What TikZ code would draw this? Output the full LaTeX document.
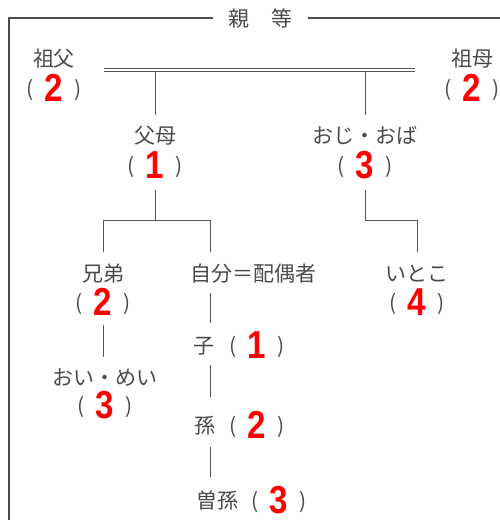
\documentclass[tikz,border=0pt]{standalone}
\usepackage{fontspec}
\newfontfamily\jp{Noto Sans CJK JP}
\newfontfamily\numf{Liberation Sans}
\definecolor{txt}{HTML}{4A4A4A}
\definecolor{lnc}{HTML}{555555}
\definecolor{rd}{HTML}{FF0000}
\newcommand\grp[4]{%
  \node[pr] (#1l) at (#2-24,#3) {(};
  \node[nm] (#1n) at (#2,#3) {#4};
  \node[pr] (#1r) at (#2+24,#3) {)};}
\begin{document}
\begin{tikzpicture}[x=1pt,y=-1pt,
  jt/.style={font=\jp\fontsize{21}{21}\selectfont, text=txt, inner sep=0pt, text height=18.5pt, text depth=2.5pt},
  pr/.style={jt},
  nm/.style={font=\numf\bfseries\fontsize{39}{39}\selectfont, text=rd, inner sep=0pt, xscale=0.85},
  ln/.style={draw=lnc, line width=1pt},
  frm/.style={draw=black!70, line width=1.5pt}]
\useasboundingbox (0,0) rectangle (500,520);
% frame
\coordinate (f0) at (9,525);
\coordinate (f1) at (9,18);
\coordinate (f2) at (213,18);
\coordinate (f3) at (308,18);
\coordinate (f4) at (505,18);
\draw[frm] (f0) -- (f1) -- (f2);
\draw[frm] (f3) -- (f4);
\node[jt] (t1) at (239,18) {親};
\node[jt] (t2) at (282,18) {等};
% grandparents
\node[jt] (sofu) at (54,58) {祖父};
\grp{sofun}{54}{88}{2}
\node[jt] (sobo) at (472,58) {祖母};
\grp{sobon}{472}{88}{2}
% double line
\coordinate (d1) at (104,69.5);
\coordinate (d2) at (415,69.5);
\draw[ln, double=white, double distance=2pt] (d1) -- (d2);
\coordinate (a1) at (155,71);
\coordinate (a2) at (155,115);
\coordinate (b1) at (365,71);
\coordinate (b2) at (365,115);
\draw[ln] (a1) -- (a2);
\draw[ln] (b1) -- (b2);
% parents / uncles
\node[jt] (fubo) at (155,135) {父母};
\grp{fubon}{155}{165}{1}
\node[jt] (oji) at (365,135) {おじ・おば};
\grp{ojin}{365}{165}{3}
% tree below parents
\coordinate (p1) at (155,190);
\coordinate (p2) at (155,220);
\coordinate (p3) at (103,220);
\coordinate (p4) at (103,252);
\coordinate (p5) at (210,220);
\coordinate (p6) at (210,252);
\draw[ln] (p1) -- (p2);
\draw[ln] (p4) -- (p3) -- (p5) -- (p6);
\coordinate (q1) at (365,190);
\coordinate (q2) at (365,220);
\coordinate (q3) at (417,220);
\coordinate (q4) at (417,252);
\draw[ln] (q1) -- (q2) -- (q3) -- (q4);
% generation of self
\node[jt] (kyo) at (103,273) {兄弟};
\grp{kyon}{103}{302}{2}
\node[jt, anchor=west] (jib) at (190,273) {自分＝配偶者};
\node[jt] (ito) at (417,273) {いとこ};
\grp{iton}{417}{302}{4}
% nephews
\coordinate (k1) at (103,325);
\coordinate (k2) at (103,357);
\draw[ln] (k1) -- (k2);
\node[jt] (oi) at (105,377) {おい・めい};
\grp{oin}{105}{405}{3}
% descendants
\coordinate (s1) at (210,293);
\coordinate (s2) at (210,323);
\draw[ln] (s1) -- (s2);
\node[jt] (ko) at (204,345) {子};
\grp{kon}{257}{345}{1}
\coordinate (s3) at (210,365);
\coordinate (s4) at (210,397);
\draw[ln] (s3) -- (s4);
\node[jt] (mago) at (205,425) {孫};
\grp{magon}{257}{425}{2}
\coordinate (s5) at (210,447);
\coordinate (s6) at (210,477);
\draw[ln] (s5) -- (s6);
\node[jt] (himago) at (217,500) {曽孫};
\grp{himn}{279}{500}{3}
\end{tikzpicture}
\end{document}
